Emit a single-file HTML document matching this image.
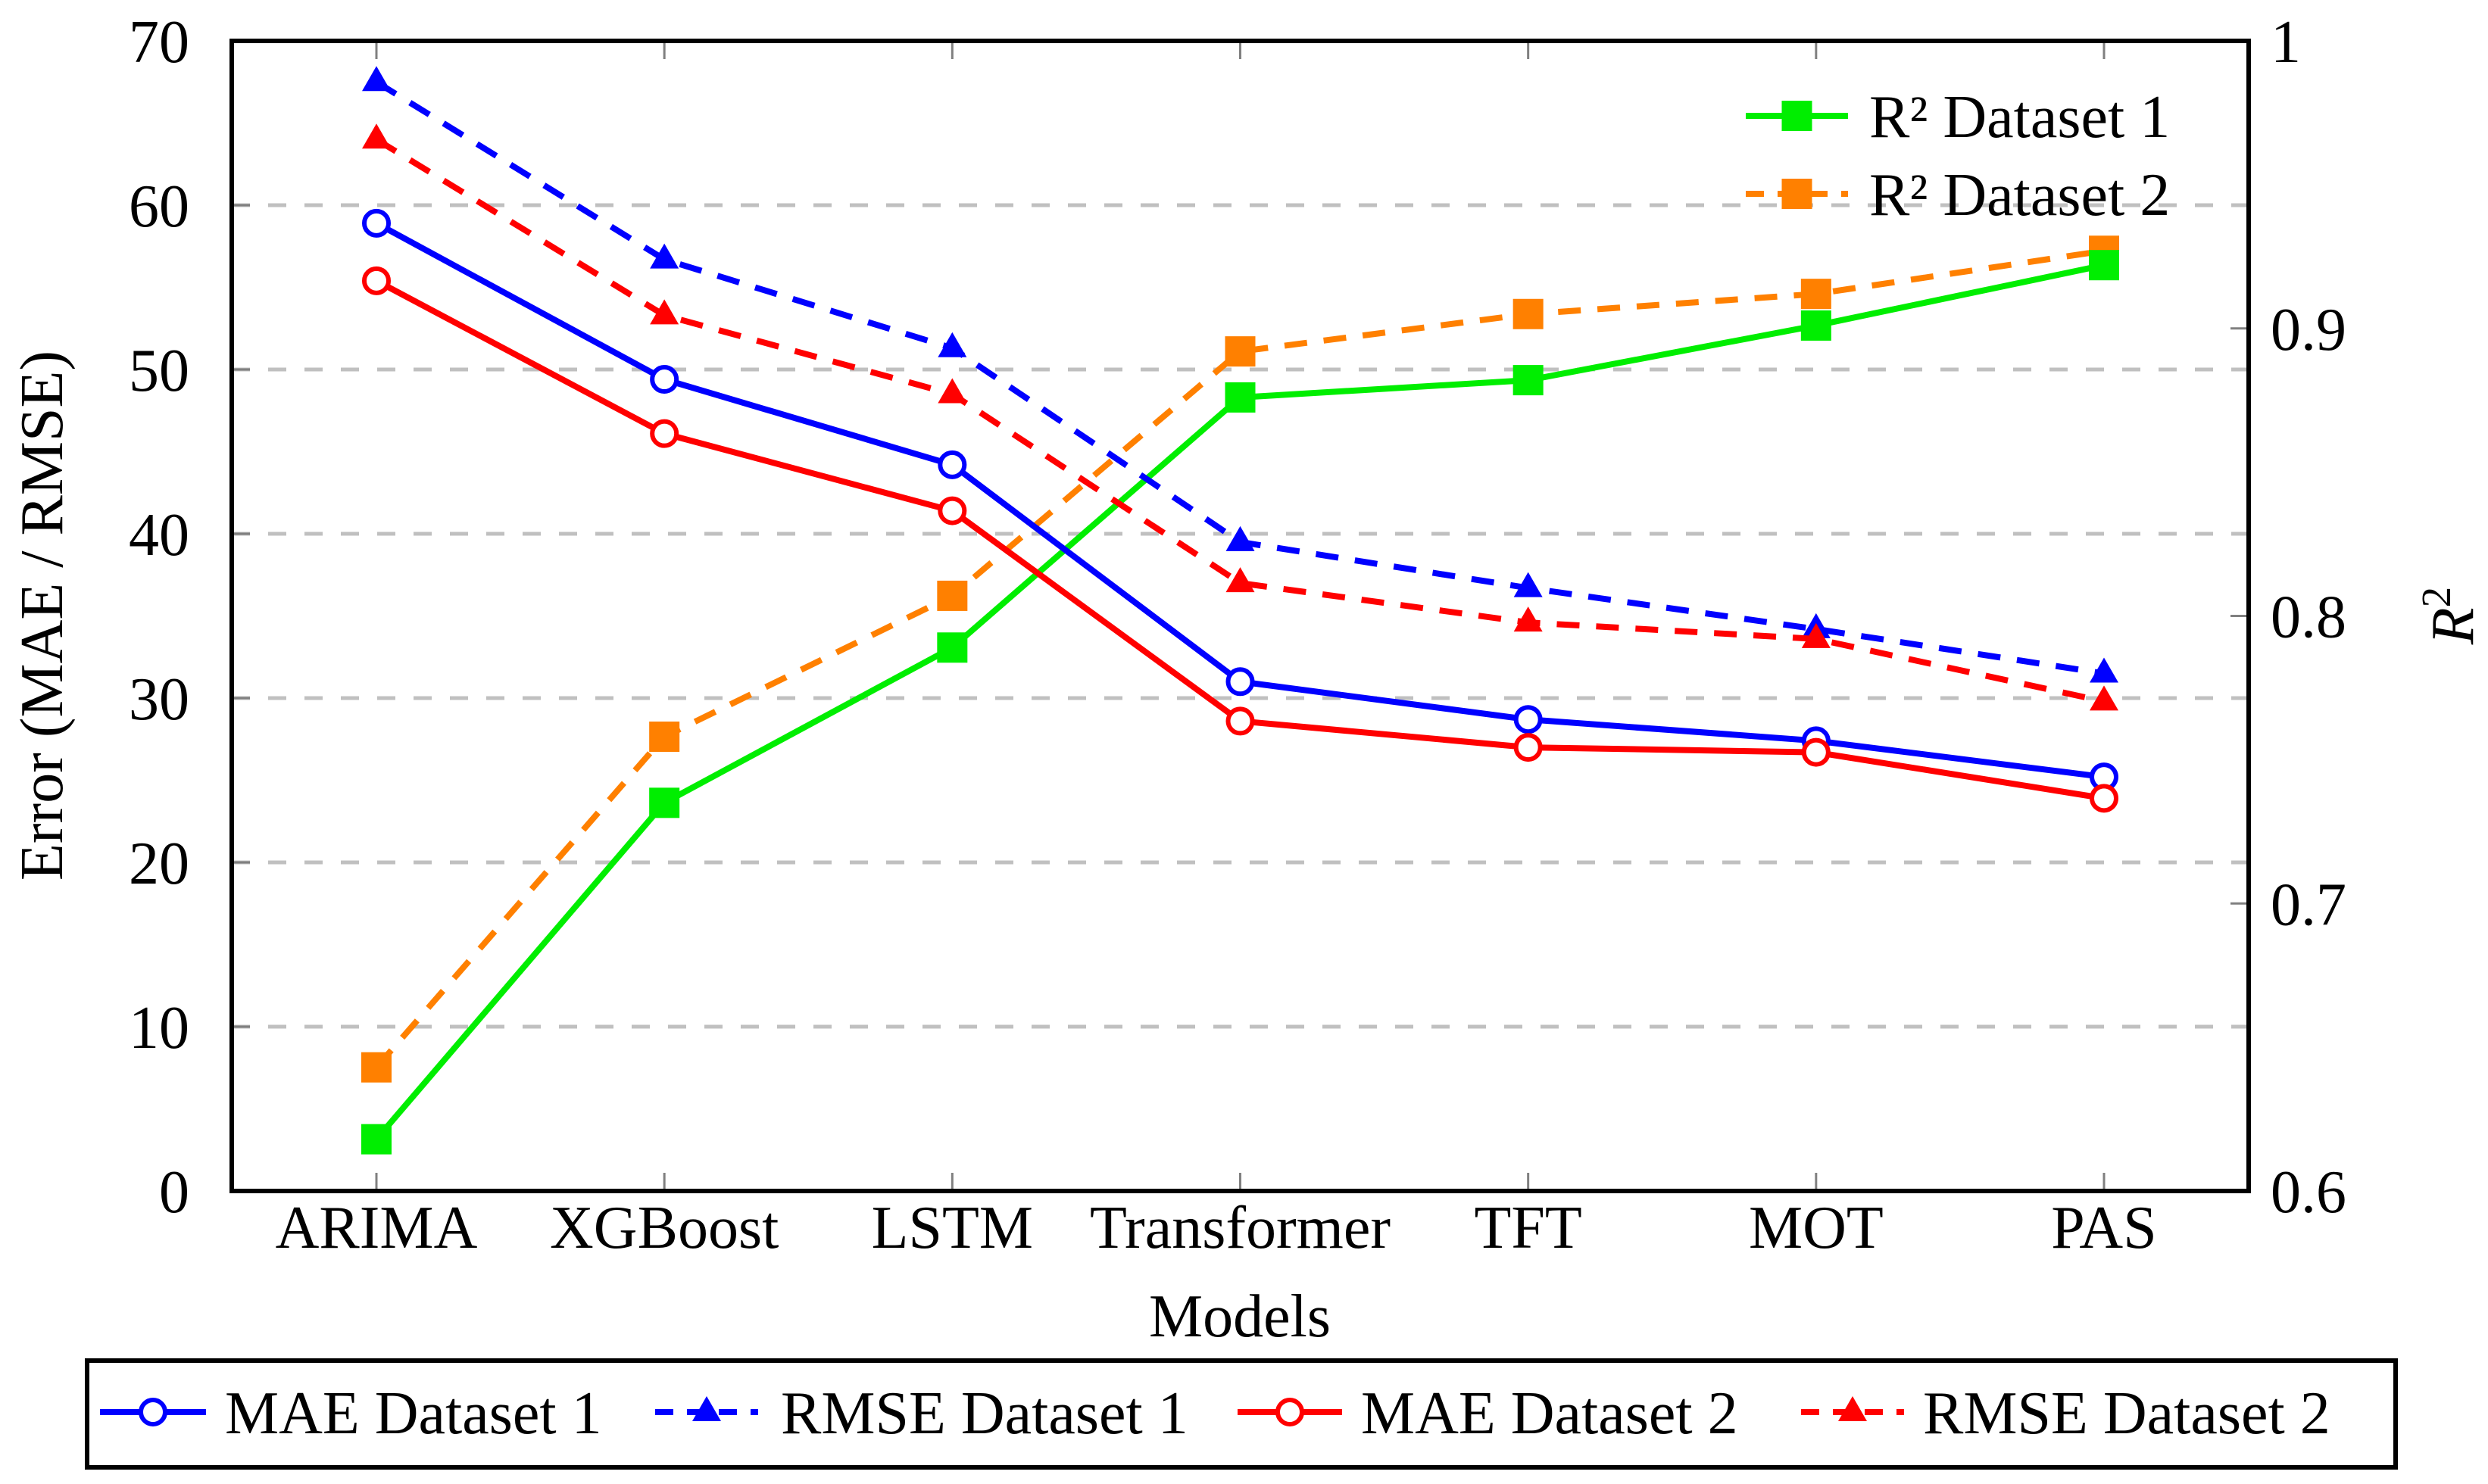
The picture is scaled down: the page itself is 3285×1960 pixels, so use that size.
<!DOCTYPE html>
<html><head><meta charset="utf-8"><style>
html,body{margin:0;padding:0;background:#fff}
svg{display:block;font-family:"Liberation Serif","DejaVu Serif",serif}
svg text{font-family:"Liberation Serif","DejaVu Serif",serif;fill:#000}
</style></head><body>
<svg id="chart" width="3285" height="1960" viewBox="0 0 3285 1960" xmlns="http://www.w3.org/2000/svg" font-family="Liberation Serif, serif">
<g id="grid"></g>
<g id="ticks"></g>
<g id="series"></g>
<rect x="306" y="54" width="2663" height="1519" fill="none" stroke="#000" stroke-width="6"/>
<text x="1637" y="1765" font-size="80" text-anchor="middle" font-family="Liberation Serif, serif">Models</text>
<text transform="translate(82,813) rotate(-90)" font-size="80" text-anchor="middle" font-family="Liberation Serif, serif">Error (MAE / RMSE)</text>
<text transform="translate(3265,813) rotate(-90)" font-size="80" text-anchor="middle" font-style="italic" font-family="Liberation Serif, serif">R<tspan font-size="55" dy="-30" font-style="normal">2</tspan></text>
<g id="legend-r2"></g>
<rect x="115" y="1797" width="3048" height="141" fill="#fff" stroke="#000" stroke-width="6"/>
<g id="legend-err"></g>
</svg>
<script>
const categories = ["ARIMA","XGBoost","LSTM","Transformer","TFT","MOT","PAS"];
const mae1 = [58.9, 49.4, 44.2, 31.0, 28.7, 27.4, 25.2];
const rmse1 = [67.5, 56.7, 51.3, 39.5, 36.7, 34.2, 31.5];
const mae2 = [55.4, 46.1, 41.4, 28.6, 27.0, 26.7, 23.9];
const rmse2 = [64.0, 53.3, 48.5, 37.0, 34.6, 33.6, 29.8];
const r2d1 = [0.618, 0.735, 0.789, 0.876, 0.882, 0.901, 0.922];
const r2d2 = [0.643, 0.758, 0.807, 0.892, 0.905, 0.912, 0.927];
const leftTicks = [0,10,20,30,40,50,60,70];
const rightTicks = ["0.6","0.7","0.8","0.9","1"];

const NS="http://www.w3.org/2000/svg";
const FF="Liberation Serif, serif";
const L=306,R=2969,T=54,B=1573;
const xs=i=>497+i*(2778-497)/(categories.length-1);
const yl=v=>B-(v-0)/(70-0)*(B-T);
const yr=v=>B-(v-0.6)/(1.0-0.6)*(B-T);
function mk(tag,attrs,parent){const e=document.createElementNS(NS,tag);for(const k in attrs)e.setAttribute(k,attrs[k]);parent.appendChild(e);return e;}
const grid=document.getElementById('grid'),ticks=document.getElementById('ticks'),series=document.getElementById('series');

leftTicks.forEach(v=>{
  const y=yl(v);
  if(v>0&&v<70){const g=mk('line',{x1:L,x2:R,y1:y,y2:y,stroke:'#c0c0c0','stroke-width':5,'stroke-dasharray':'24 24'},grid);
  
  }
  const t=mk('line',{x1:L,x2:L+24,y1:y,y2:y,stroke:'#808080','stroke-width':3},ticks);
  
  
  const tx=mk('text',{x:250,y:y+28,'font-size':80,'text-anchor':'end','font-family':FF},ticks);
  tx.textContent=v;
  
  
});
rightTicks.forEach(s=>{
  const y=yr(parseFloat(s));
  const t=mk('line',{x1:R-24,x2:R,y1:y,y2:y,stroke:'#808080','stroke-width':3},ticks);
  
  
  const tx=mk('text',{x:2998,y:y+28,'font-size':80,'font-family':FF},ticks);
  tx.textContent=s;
  
  
});
categories.forEach((c,i)=>{
  const x=xs(i);
  mk('line',{x1:x,x2:x,y1:B,y2:B-24,stroke:'#808080','stroke-width':3},ticks);
  mk('line',{x1:x,x2:x,y1:T,y2:T+24,stroke:'#808080','stroke-width':3},ticks);
  const tx=mk('text',{x:x,y:1648,'font-size':80,'text-anchor':'middle','font-family':FF},ticks);
  tx.textContent=c;
  
  
});

function marker(kind,x,y,color,parent){
  let e;
  if(kind==='circle') e=mk('circle',{cx:x,cy:y,r:16,fill:'#fff',stroke:color,'stroke-width':6},parent);
  else if(kind==='tri') e=mk('polygon',{points:`${x},${y-21} ${x-19},${y+12} ${x+19},${y+12}`,fill:color},parent);
  else e=mk('rect',{x:x-20,y:y-20,width:40,height:40,fill:color},parent);
  return e;
}
const defs=[
 {vals:r2d2,sc:yr,color:'#ff8000',dash:'30 22',m:'sq',name:'r2-dataset-2'},
 {vals:r2d1,sc:yr,color:'#00ee00',dash:'',m:'sq',name:'r2-dataset-1'},
 {vals:rmse1,sc:yl,color:'#0000ff',dash:'30 22',m:'tri',name:'rmse-dataset-1'},
 {vals:rmse2,sc:yl,color:'#ff0000',dash:'30 22',m:'tri',name:'rmse-dataset-2'},
 {vals:mae1,sc:yl,color:'#0000ff',dash:'',m:'circle',name:'mae-dataset-1'},
 {vals:mae2,sc:yl,color:'#ff0000',dash:'',m:'circle',name:'mae-dataset-2'}
];
defs.forEach(d=>{
  const g=mk('g',{},series);
  
  
  const pts=d.vals.map((v,i)=>xs(i)+','+d.sc(v)).join(' ');
  const pl=mk('polyline',{points:pts,fill:'none',stroke:d.color,'stroke-width':8,'stroke-dasharray':d.dash},g);
  
  
  d.vals.forEach((v,i)=>{
    const e=marker(d.m,xs(i),d.sc(v),d.color,g);
    
    
  });
});

function legendEntry(parent,x1,x2,y,color,dash,m,label,tx,name){
  const g=mk('g',{},parent);
  
  
  mk('line',{x1:x1,x2:x2,y1:y,y2:y,stroke:color,'stroke-width':8,'stroke-dasharray':dash},g);
  marker(m,(x1+x2)/2,y,color,g);
  const t=mk('text',{x:tx,y:y+28,'font-size':80,'font-family':FF},g);
  t.textContent=label;
}
const lr=document.getElementById('legend-r2');
legendEntry(lr,2305,2440,153,'#00ee00','','sq','R² Dataset 1',2468,'legend-entry-r2-1');
legendEntry(lr,2305,2440,256,'#ff8000','24 18','sq','R² Dataset 2',2468,'legend-entry-r2-2');
const le=document.getElementById('legend-err');
legendEntry(le,132,272,1865,'#0000ff','','circle','MAE Dataset 1',297,'legend-entry-mae-1');
legendEntry(le,865,1001,1865,'#0000ff','24 18','tri','RMSE Dataset 1',1031,'legend-entry-rmse-1');
legendEntry(le,1634,1772,1865,'#ff0000','','circle','MAE Dataset 2',1797,'legend-entry-mae-2');
legendEntry(le,2378,2514,1865,'#ff0000','24 18','tri','RMSE Dataset 2',2539,'legend-entry-rmse-2');
</script>
</body></html>
